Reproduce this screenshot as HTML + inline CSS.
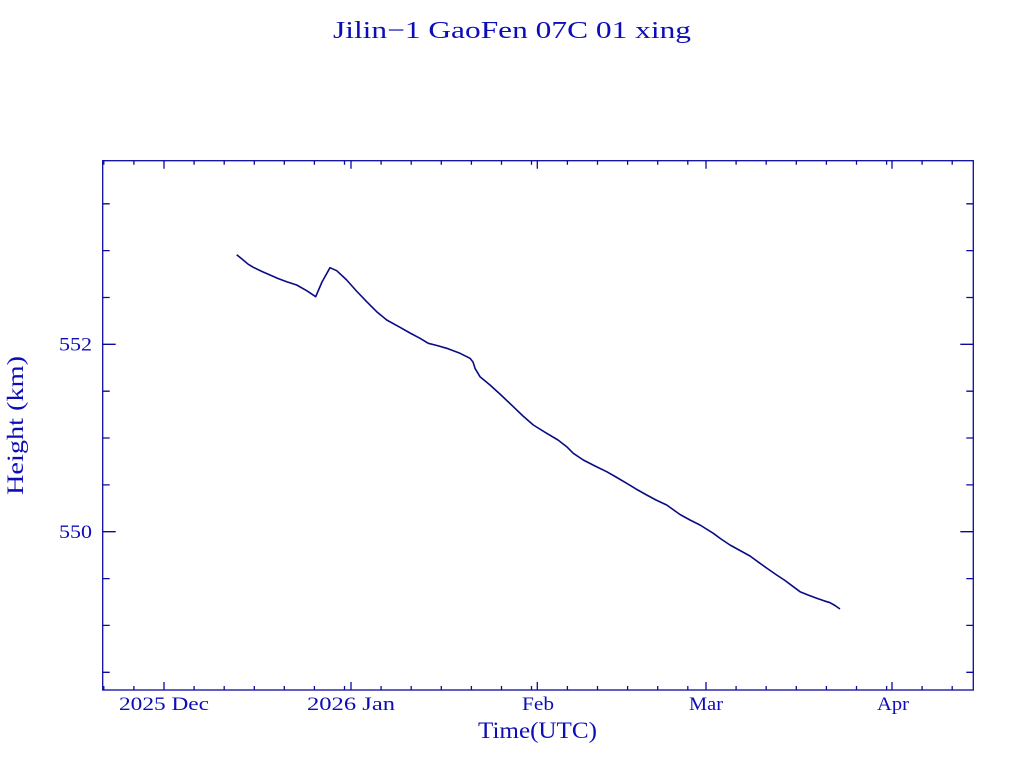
<!DOCTYPE html>
<html>
<head>
<meta charset="utf-8">
<style>
html,body{margin:0;padding:0;background:#fff;}
svg{display:block;}
text{font-family:"Liberation Serif",serif;fill:#0d0db8;}
</style>
</head>
<body>
<svg width="1024" height="768" viewBox="0 0 1024 768" xmlns="http://www.w3.org/2000/svg">
<rect width="1024" height="768" fill="#fff"/>
<text x="333" y="38" font-size="24" textLength="358" lengthAdjust="spacingAndGlyphs">Jilin−1 GaoFen 07C 01 xing</text>

<g stroke="#0a0aa0" stroke-width="1.3" fill="none">
<rect x="102.7" y="160.7" width="870.6" height="529.3"/>
<!-- y ticks -->
<path d="M102.7 203.8h7M102.7 250.6h7M102.7 297.5h7M102.7 344.3h13M102.7 391.2h7M102.7 438h7M102.7 484.9h7M102.7 531.7h13M102.7 578.6h7M102.7 625.4h7M102.7 672.3h7"/>
<path d="M973.3 203.8h-7M973.3 250.6h-7M973.3 297.5h-7M973.3 344.3h-13M973.3 391.2h-7M973.3 438h-7M973.3 484.9h-7M973.3 531.7h-13M973.3 578.6h-7M973.3 625.4h-7M973.3 672.3h-7"/>
<!-- x major ticks -->
<path d="M164 690v-8M351 690v-8M537.3 690v-8M706 690v-8M892 690v-8"/>
<path d="M164 160.7v8M351 160.7v8M537.3 160.7v8M706 160.7v8M892 160.7v8"/>
<!-- x minor ticks bottom -->
<path d="M103.8 690v-4M133.9 690v-4M194.1 690v-4M224.2 690v-4M254.3 690v-4M284.3 690v-4M314.4 690v-4M344.5 690v-4M381.1 690v-4M411.2 690v-4M441.3 690v-4M471.4 690v-4M501.5 690v-4M531.5 690v-4M567.4 690v-4M597.5 690v-4M627.6 690v-4M657.7 690v-4M687.8 690v-4M736.1 690v-4M766.2 690v-4M796.3 690v-4M826.4 690v-4M856.5 690v-4M886.6 690v-4M922.1 690v-4M952.2 690v-4"/>
<path d="M103.8 160.7v4M133.9 160.7v4M194.1 160.7v4M224.2 160.7v4M254.3 160.7v4M284.3 160.7v4M314.4 160.7v4M344.5 160.7v4M381.1 160.7v4M411.2 160.7v4M441.3 160.7v4M471.4 160.7v4M501.5 160.7v4M531.5 160.7v4M567.4 160.7v4M597.5 160.7v4M627.6 160.7v4M657.7 160.7v4M687.8 160.7v4M736.1 160.7v4M766.2 160.7v4M796.3 160.7v4M826.4 160.7v4M856.5 160.7v4M886.6 160.7v4M922.1 160.7v4M952.2 160.7v4"/>
</g>

<!-- data line -->
<polyline fill="none" stroke="#0b0b85" stroke-width="1.6" stroke-linejoin="round" points="
236.7,254.7 242,259 248.3,264.3 253.3,267.3 262,271.5 270,275 278,278.5 286.7,281.7 296.7,285 306.7,290.7 315.7,296.7
322,282 330,267.7 336.7,270.7 346.7,280 356,290.5 366.7,301.7 376.7,311.7 386.7,320 400,327.3 410,333 420,338.3 428.3,343.3
437,345.5 446.7,348.3 460,353.3 470,358.3 473,362 475,368.3 480,376.7 490,385 501,395 513.3,406.7 523,416 533.3,425
546.7,433.3 558,440 566.7,446.7 573.3,453.3 583.3,460 595,466 606.7,471.7 616,477 626.7,483.3 636,489 646.7,495 656,500 666.7,505 680,514.5
690,520 700,525 713.3,533.3 721,539 730,545 740,550.5 750,556 760,563.3 768,569 776.7,575 785,580.5 793.3,586.7 800,591.7
808,595 816.7,598.3 824,600.8 830,602.7 835,605.5 840,609"/>

<!-- y tick labels -->
<text x="59" y="350.5" font-size="19" textLength="33" lengthAdjust="spacingAndGlyphs">552</text>
<text x="59" y="538" font-size="19" textLength="33" lengthAdjust="spacingAndGlyphs">550</text>

<!-- x tick labels -->
<text x="119" y="710" font-size="19" textLength="90" lengthAdjust="spacingAndGlyphs">2025 Dec</text>
<text x="307" y="710" font-size="19" textLength="88" lengthAdjust="spacingAndGlyphs">2026 Jan</text>
<text x="522" y="710" font-size="19" textLength="32" lengthAdjust="spacingAndGlyphs">Feb</text>
<text x="689" y="710" font-size="19" textLength="34" lengthAdjust="spacingAndGlyphs">Mar</text>
<text x="877" y="710" font-size="19" textLength="32" lengthAdjust="spacingAndGlyphs">Apr</text>

<!-- axis titles -->
<text x="478" y="738" font-size="23" textLength="119" lengthAdjust="spacingAndGlyphs">Time(UTC)</text>
<text transform="translate(23,495) rotate(-90)" x="0" y="0" font-size="23" textLength="139" lengthAdjust="spacingAndGlyphs">Height (km)</text>
</svg>
</body>
</html>
